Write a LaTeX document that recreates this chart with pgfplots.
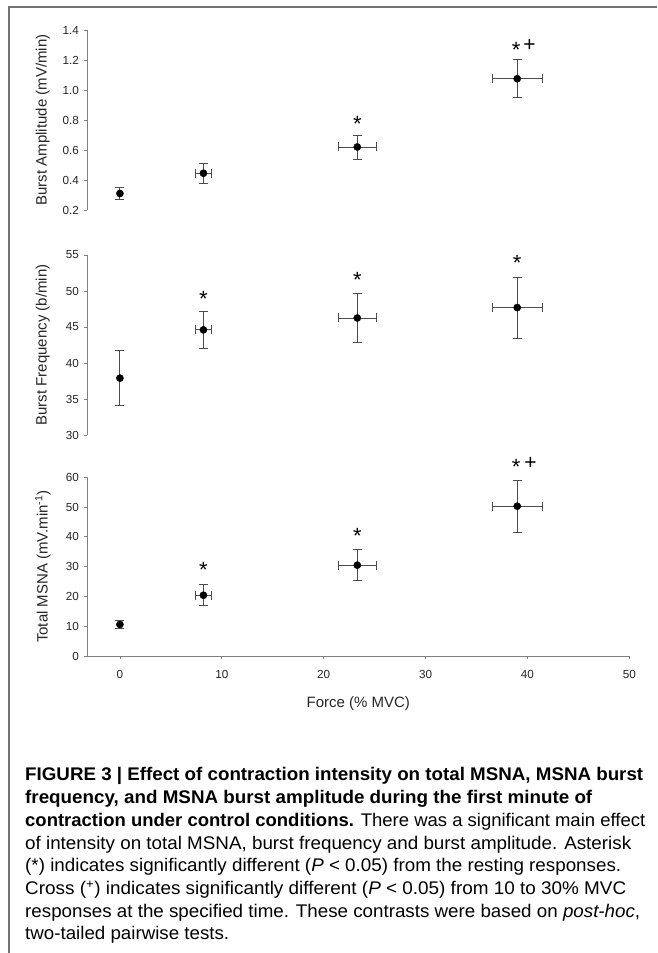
\documentclass[border=0pt]{standalone}
\usepackage{fontspec}
\setmainfont{Liberation Sans}
\usepackage{graphicx}
\usepackage{pgfplots}
\pgfplotsset{compat=1.18}

\definecolor{framegray}{gray}{0.45}
\definecolor{axisgray}{gray}{0.5}
\definecolor{bargray}{gray}{0.3}

\newcommand{\ticksz}{\fontsize{11.7pt}{12pt}\selectfont}
\newcommand{\labsz}{\fontsize{15pt}{16pt}\selectfont}
\newcommand{\capsz}{\fontsize{18.3pt}{22pt}\selectfont}
% one caption line, set to a given width
\newcommand{\capline}[2]{\resizebox{#1}{\height}{#2}}

\pgfplotsset{
  panel/.style={
    scale only axis, width=542pt, height=180pt,
    xmin=-3.2, xmax=50,
    axis y line=left,
    axis line style={draw=axisgray, line width=0.8pt, -},
    tick style={draw=axisgray, line width=0.8pt},
    tick align=outside, major tick length=3pt, minor tick num=0,
    ticklabel style={font=\ticksz, text=black!85},
    yticklabel style={xshift=-2pt},
    xticklabel style={yshift=-8pt},
    /pgf/number format/assume math mode=true,
    clip=false,
    ylabel style={at={(axis description cs:-0.082,0.5)}, anchor=center,
      font=\labsz, text=black!85},
  },
  means/.style={
    only marks, mark=*, mark size=3.6pt,
    mark options={fill=black, draw=black},
    error bars/y dir=both, error bars/y explicit,
    error bars/error bar style={line width=0.9pt, color=bargray},
    error bars/error mark options={rotate=90, line width=0.9pt, mark size=4.5pt, color=bargray},
  },
  meansxy/.style={
    means,
    error bars/x dir=both, error bars/x explicit,
  },
}
\tikzset{
  sigstar/.style={font=\fontsize{22pt}{22pt}\selectfont, inner sep=0pt, anchor=north, yshift=4pt},
  sigcross/.style={font=\fontsize{21pt}{21pt}\selectfont, inner sep=0pt, anchor=north, yshift=5pt},
}

\begin{document}
\begin{tikzpicture}
\path[use as bounding box] (0,0) rectangle (657pt,953pt);
\draw[framegray, line width=1.5pt] (9pt,0) -- (9pt,946pt) -- (657pt,946pt);

% Burst amplitude
\begin{axis}[axis x line=none, panel, at={(87.3pt,743pt)}, anchor=south west,
  ymin=0.2, ymax=1.4, ytick={0.2,0.4,...,1.4},
  yticklabel style={/pgf/number format/.cd, fixed, fixed zerofill, precision=1},
  ylabel={Burst Amplitude (mV/min)}]
  \addplot[means] coordinates {(0,0.31) +- (0,0.04)};
  \addplot[meansxy] coordinates {
    (8.2,0.445) +- (0.75,0.065)
    (23.3,0.62) +- (1.88,0.08)
    (39.0,1.075) +- (2.47,0.128)
  };
  \node[sigstar] at (axis cs:23.3,0.80) {*};
  \node[sigstar] at (axis cs:38.9,1.295) {*};
  \node[sigcross] at (axis cs:40.2,1.307) {+};
\end{axis}

% Burst frequency
\begin{axis}[axis x line=none, panel, at={(87.3pt,518pt)}, anchor=south west,
  ymin=30, ymax=55, ytick={30,35,...,55},
  ylabel={Burst Frequency (b/min)}]
  \addplot[means] coordinates {(0,37.9) +- (0,3.8)};
  \addplot[meansxy] coordinates {
    (8.2,44.6) +- (0.78,2.57)
    (23.3,46.25) +- (1.88,3.4)
    (39.0,47.7) +- (2.47,4.25)
  };
  \node[sigstar] at (axis cs:8.2,49.4) {*};
  \node[sigstar] at (axis cs:23.3,52.0) {*};
  \node[sigstar] at (axis cs:39.0,54.4) {*};
\end{axis}

% Total MSNA
\begin{axis}[axis x line=bottom, panel, at={(87.3pt,297pt)}, anchor=south west, height=178.7pt,
  ymin=0, ymax=60, ytick={0,10,...,60},
  xtick={0,10,...,50},
  ylabel={Total MSNA (mV.min\textsuperscript{-1})},
  xlabel={Force (\% MVC)},
  xlabel style={at={(axis description cs:0.5,0)}, anchor=center, yshift=-47.5pt,
    font=\labsz, text=black!85}]
  \addplot[means] coordinates {(0,10.6) +- (0,1.45)};
  \addplot[meansxy] coordinates {
    (8.2,20.4) +- (0.75,3.47)
    (23.3,30.5) +- (1.88,5.2)
    (39.0,50.3) +- (2.47,8.7)
  };
  \node[sigstar] at (axis cs:8.2,30.3) {*};
  \node[sigstar] at (axis cs:23.3,41.7) {*};
  \node[sigstar] at (axis cs:38.9,64.8) {*};
  \node[sigcross] at (axis cs:40.3,65.2) {+};
\end{axis}

% Caption
\begin{scope}[every node/.style={anchor=base west, inner sep=0pt, font=\capsz}]
\node at (25pt,172pt) {\capline{618pt}{\bfseries FIGURE 3 | Effect of contraction intensity on total MSNA, MSNA burst}};
\node at (25pt,149.3pt) {\capline{567pt}{\bfseries frequency, and MSNA burst amplitude during the first minute of}};
\node at (25pt,126.6pt) {\capline{620pt}{\textbf{contraction under control conditions.} There was a significant main effect}};
\node at (25pt,103.9pt) {\capline{606pt}{of intensity on total MSNA, burst frequency and burst amplitude. Asterisk}};
\node at (25pt,81.2pt) {\capline{596pt}{(*) indicates significantly different (\textit{P} < 0.05) from the resting responses.}};
\node at (25pt,58.5pt) {\capline{601pt}{Cross (\textsuperscript{+}) indicates significantly different (\textit{P} < 0.05) from 10 to 30\% MVC}};
\node at (25pt,35.8pt) {\capline{615pt}{responses at the specified time. These contrasts were based on \textit{post-hoc},}};
\node at (25pt,13.1pt) {\capline{204pt}{two-tailed pairwise tests.}};
\end{scope}
\end{tikzpicture}
\end{document}
